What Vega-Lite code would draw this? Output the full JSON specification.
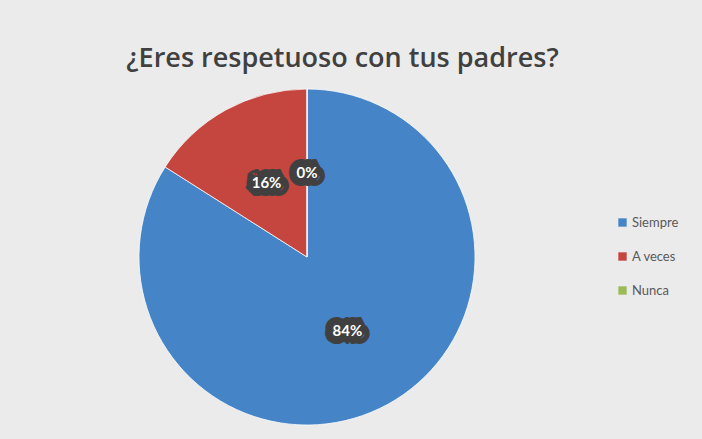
{
  "$schema": "https://vega.github.io/schema/vega-lite/v6.json",
  "width": 702,
  "height": 439,
  "autosize": {"type": "fit", "contains": "padding"},
  "padding": {"left": 6, "top": 45, "right": 23, "bottom": 10},
  "background": "#ebebeb",
  "title": {
    "text": "¿Eres respetuoso con tus padres?",
    "font": "Open Sans",
    "fontSize": 27,
    "fontWeight": 600,
    "color": "#404040",
    "anchor": "middle",
    "frame": "bounds",
    "offset": 12
  },
  "data": {
    "values": [
      {"respuesta": "Siempre", "porcentaje": 0.84, "orden": 1},
      {"respuesta": "A veces", "porcentaje": 0.16, "orden": 2},
      {"respuesta": "Nunca", "porcentaje": 0.0, "orden": 3}
    ]
  },
  "encoding": {
    "theta": {"field": "porcentaje", "type": "quantitative", "stack": true},
    "order": {"field": "orden", "type": "quantitative"}
  },
  "layer": [
    {
      "mark": {"type": "arc", "radius": 168, "stroke": "#ffffff", "strokeWidth": 0.75},
      "encoding": {
        "color": {
          "field": "respuesta",
          "type": "nominal",
          "sort": ["Siempre", "A veces", "Nunca"],
          "scale": {"domain": ["Siempre", "A veces", "Nunca"], "range": ["#4584c6", "#c4463f", "#9bbb59"]},
          "legend": {
            "title": null,
            "orient": "right",
            "offset": 8,
            "symbolType": "square",
            "symbolSize": 70,
            "symbolStrokeWidth": 0,
            "labelFont": "Lato",
            "labelFontSize": 13,
            "labelColor": "#595959",
            "labelOffset": 3,
            "rowPadding": 20
          }
        }
      }
    },
    {
      "mark": {"type": "text", "radius": 84, "font": "Lato", "fontSize": 15, "fontWeight": "bold", "fill": "#404040", "stroke": "#404040", "strokeWidth": 16, "strokeJoin": "bevel"},
      "encoding": {
        "text": {"field": "porcentaje", "type": "quantitative", "format": ".0%"}
      }
    },
    {
      "mark": {"type": "text", "radius": 84, "font": "Lato", "fontSize": 15, "fontWeight": "bold", "fill": "#ffffff"},
      "encoding": {
        "text": {"field": "porcentaje", "type": "quantitative", "format": ".0%"}
      }
    }
  ],
  "config": {
    "view": {"stroke": null},
    "legend": {"layout": {"right": {"anchor": "middle"}}}
  }
}
